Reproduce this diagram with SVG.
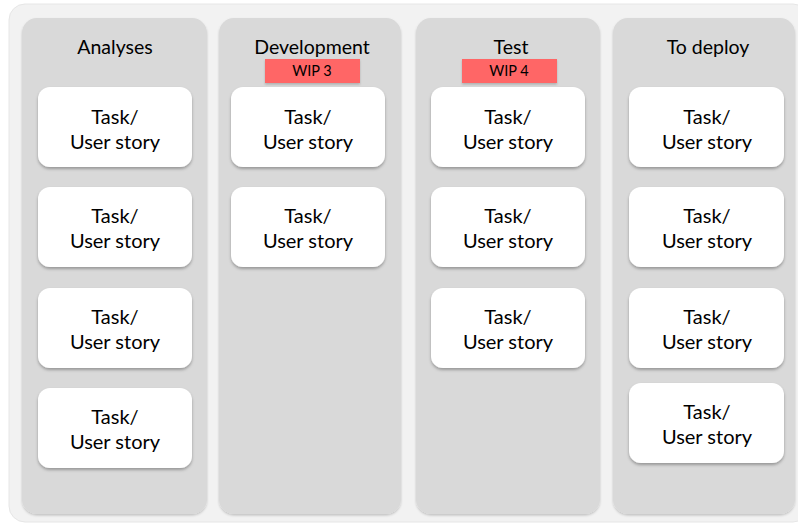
<svg xmlns="http://www.w3.org/2000/svg" width="798" height="524" viewBox="0 0 798 524">
<defs>
<filter id="sh" x="-10%" y="-10%" width="120%" height="130%"><feDropShadow dx="0" dy="2" stdDeviation="1.5" flood-color="#000" flood-opacity="0.3"/></filter>
<filter id="sh2" x="-10%" y="-10%" width="120%" height="120%"><feDropShadow dx="0" dy="1.5" stdDeviation="1.2" flood-color="#000" flood-opacity="0.2"/></filter>
</defs>
<style>
.bg{fill:#f2f2f2;stroke:#e6e6e6;stroke-width:1}
.col{fill:#d9d9d9;filter:url(#sh2)}
.card{fill:#fff;filter:url(#sh)}
.wip{fill:#ff6666;filter:url(#sh2)}
text{font-family:"Lato","Liberation Sans",sans-serif;fill:#000;text-anchor:middle}
.h{font-size:19.5px}
.t{font-size:20px}
.w{font-size:14.5px}
</style>
<rect class="bg" x="9" y="4" width="800" height="518" rx="16"/>
<g id="col-analyses">
<rect class="col" x="22" y="18" width="185" height="496" rx="15"/>
<text class="h" x="115" y="54">Analyses</text>
</g>
<g id="col-development">
<rect class="col" x="219" y="18" width="182" height="496" rx="15"/>
<text class="h" x="312" y="54">Development</text>
</g>
<g id="col-test">
<rect class="col" x="416" y="18" width="184" height="496" rx="15"/>
<text class="h" x="511" y="54">Test</text>
</g>
<g id="col-deploy">
<rect class="col" x="613" y="18" width="182" height="496" rx="15"/>
<text class="h" x="708" y="54">To deploy</text>
</g>
<g id="wip3"><rect class="wip" x="265" y="59" width="95" height="24"/><text class="w" x="312" y="76">WIP 3</text></g>
<g id="wip4"><rect class="wip" x="462" y="59" width="95" height="24"/><text class="w" x="509" y="76">WIP 4</text></g>

<g id="a1"><rect class="card" x="38" y="87" width="154" height="80" rx="12"/><text class="t" x="115" y="124">Task/</text><text class="t" x="115" y="149">User story</text></g>
<g id="a2"><rect class="card" x="38" y="187" width="154" height="80" rx="12"/><text class="t" x="115" y="223">Task/</text><text class="t" x="115" y="248">User story</text></g>
<g id="a3"><rect class="card" x="38" y="288" width="154" height="80" rx="12"/><text class="t" x="115" y="324">Task/</text><text class="t" x="115" y="349">User story</text></g>
<g id="a4"><rect class="card" x="38" y="388" width="154" height="80" rx="12"/><text class="t" x="115" y="424">Task/</text><text class="t" x="115" y="449">User story</text></g>

<g id="d1"><rect class="card" x="231" y="87" width="154" height="80" rx="12"/><text class="t" x="308" y="124">Task/</text><text class="t" x="308" y="149">User story</text></g>
<g id="d2"><rect class="card" x="231" y="187" width="154" height="80" rx="12"/><text class="t" x="308" y="223">Task/</text><text class="t" x="308" y="248">User story</text></g>

<g id="t1"><rect class="card" x="431" y="87" width="154" height="80" rx="12"/><text class="t" x="508" y="124">Task/</text><text class="t" x="508" y="149">User story</text></g>
<g id="t2"><rect class="card" x="431" y="187" width="154" height="80" rx="12"/><text class="t" x="508" y="223">Task/</text><text class="t" x="508" y="248">User story</text></g>
<g id="t3"><rect class="card" x="431" y="288" width="154" height="80" rx="12"/><text class="t" x="508" y="324">Task/</text><text class="t" x="508" y="349">User story</text></g>

<g id="p1"><rect class="card" x="629" y="87" width="155" height="80" rx="12"/><text class="t" x="707" y="124">Task/</text><text class="t" x="707" y="149">User story</text></g>
<g id="p2"><rect class="card" x="629" y="187" width="155" height="80" rx="12"/><text class="t" x="707" y="223">Task/</text><text class="t" x="707" y="248">User story</text></g>
<g id="p3"><rect class="card" x="629" y="288" width="155" height="80" rx="12"/><text class="t" x="707" y="324">Task/</text><text class="t" x="707" y="349">User story</text></g>
<g id="p4"><rect class="card" x="629" y="383" width="155" height="80" rx="12"/><text class="t" x="707" y="419">Task/</text><text class="t" x="707" y="444">User story</text></g>
</svg>
